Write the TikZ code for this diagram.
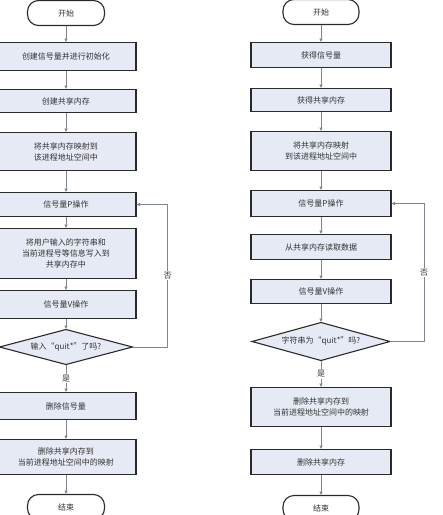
\documentclass[tikz,border=0pt]{standalone}
\usepackage{fontspec}
\setmainfont{Noto Sans CJK SC}
\usepackage{xcolor}
\usepackage{tikz}
\usetikzlibrary{positioning, arrows.meta, shapes.geometric, calc}
\definecolor{boxfill}{HTML}{E6EAF5}
\definecolor{boxline}{HTML}{2A2A2A}
\definecolor{arrowgray}{HTML}{7E8791}
\tikzstyle{term} = [rectangle, draw=boxline, line width=1.1pt, fill=white, rounded corners=11pt, minimum width=77pt, minimum height=25pt, outer sep=0pt, font=\fontsize{8}{10}\selectfont, text=black!80]
\tikzstyle{block} = [rectangle, draw=boxline, line width=1.1pt, fill=boxfill, text width=130pt, align=center, minimum width=140pt, inner sep=0pt, outer sep=0pt, font=\fontsize{8}{11}\selectfont, text=black!80]
\tikzstyle{decide} = [diamond, draw=boxline, line width=1.1pt, fill=boxfill, aspect=4, inner sep=0pt, outer sep=0pt, font=\fontsize{8}{10}\selectfont, text=black!80]
\tikzstyle{line} = [draw=arrowgray, line width=0.9pt, -{Latex[length=4pt, width=3.5pt]}]
\tikzstyle{lab} = [fill=white, inner sep=1pt, font=\fontsize{8}{10}\selectfont, text=black!80]

\begin{document}
\begin{tikzpicture}[x=1pt, y=-1pt]
        \useasboundingbox (0,0) rectangle (443,515);
        % Left column: writer
        \node (lstart) [term] at (66,13) {开始};
        \node (lb1) [block, minimum height=28pt, below=17pt of lstart] {创建信号量并进行初始化};
        \node (lb2) [block, minimum height=23pt, below=19pt of lb1] {创建共享内存};
        \node (lb3) [block, minimum height=38pt, below=20pt of lb2] {将共享内存映射到\\该进程地址空间中};
        \node (lp) [block, minimum height=24pt, below=22pt of lb3] {信号量P操作};
        \node (lb5) [block, minimum height=50pt, below=12pt of lp] {将用户输入的字符串和\\当前进程号等信息写入到\\共享内存中};
        \node (lv) [block, minimum height=28pt, below=12pt of lb5] {信号量V操作};
        \node (ldia) [decide, minimum width=133pt, minimum height=35pt, below=11pt of lv] {输入“quit*”了吗?};
        \node (lb7) [block, minimum height=27pt, below=28pt of ldia] {删除信号量};
        \node (lb8) [block, minimum height=35pt, below=20pt of lb7] {删除共享内存到\\当前进程地址空间中的映射};
        \node (lend) [term, below=20pt of lb8] {结束};
        % Right column: reader
        \node (rstart) [term, minimum width=76pt] at (321,12) {开始};
        \node (rb1) [block, minimum height=25pt, below=18pt of rstart] {获得信号量};
        \node (rb2) [block, minimum height=23pt, below=21pt of rb1] {获得共享内存};
        \node (rb3) [block, minimum height=39pt, below=20pt of rb2] {将共享内存映射\\到该进程地址空间中};
        \node (rp) [block, minimum height=26pt, below=20pt of rb3] {信号量P操作};
        \node (rb5) [block, minimum height=25pt, below=18pt of rp] {从共享内存读取数据};
        \node (rv) [block, minimum height=24pt, below=20pt of rb5] {信号量V操作};
        \node (rdia) [decide, minimum width=138pt, minimum height=38pt, below=19pt of rv] {字符串为“quit*”吗?};
        \node (rb7) [block, minimum height=39pt, below=27pt of rdia] {删除共享内存到\\当前进程地址空间中的映射};
        \node (rb8) [block, minimum height=25pt, below=23pt of rb7] {删除共享内存};
        \node (rend) [term, minimum width=76pt, below=21pt of rb8] {结束};
        % Edges left
        \path [line] (lstart) -- (lb1);
        \path [line] (lb1) -- (lb2);
        \path [line] (lb2) -- (lb3);
        \path [line] (lb3) -- (lp);
        \path [line] (lp) -- (lb5);
        \path [line] (lb5) -- (lv);
        \path [line] (lv) -- (ldia);
        \path [line] (ldia) -- node[lab] {是} (lb7);
        \path [line] (lb7) -- (lb8);
        \path [line] (lb8) -- (lend);
        \path [line] (ldia.east) -- ++(35,0) |- node[lab, pos=0.25] {否} (lp.east);
        % Edges right
        \path [line] (rstart) -- (rb1);
        \path [line] (rb1) -- (rb2);
        \path [line] (rb2) -- (rb3);
        \path [line] (rb3) -- (rp);
        \path [line] (rp) -- (rb5);
        \path [line] (rb5) -- (rv);
        \path [line] (rv) -- (rdia);
        \path [line] (rdia) -- node[lab] {是} (rb7);
        \path [line] (rb7) -- (rb8);
        \path [line] (rb8) -- (rend);
        \path [line] (rdia.east) -- ++(34,0) |- node[lab, pos=0.25] {否} (rp.east);
    \end{tikzpicture}
\end{document}
